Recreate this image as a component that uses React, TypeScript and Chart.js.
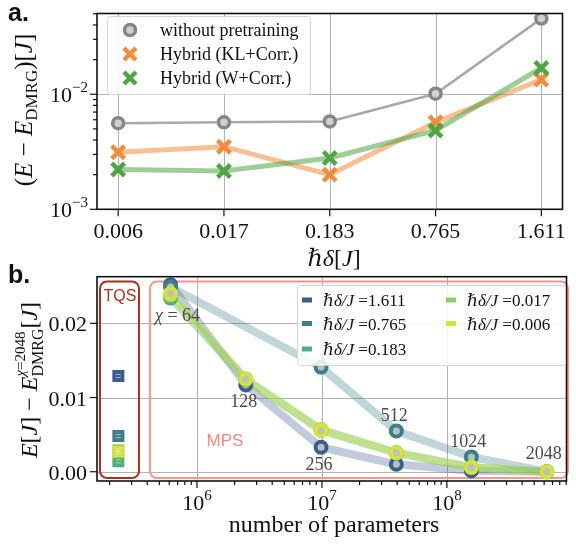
import React, { useEffect, useRef } from "react";
import { Chart, registerables } from "chart.js";
Chart.register(...registerables);

// ---------------- panel a data ----------------
const deltaLabels = ["0.006", "0.017", "0.183", "0.765", "1.611"];
const withoutPretraining = [0.0056, 0.0057, 0.0058, 0.0101, 0.0454];
const hybridKL = [0.00313, 0.0035, 0.002, 0.0057, 0.0134];
const hybridW = [0.00222, 0.00215, 0.00279, 0.00484, 0.0169];
const legendA = ["without pretraining", "Hybrid (KL+Corr.)", "Hybrid (W+Corr.)"];
const yTicksA = [0.001, 0.01];

// ---------------- panel b data ----------------
const chiValues = [64, 128, 256, 512, 1024, 2048];
const mpsParams = [6.15e5, 2.46e6, 9.84e6, 3.94e7, 1.57e8, 6.3e8];
const tqsParams = 2.35e5;
const deltaB = ["1.611", "0.765", "0.183", "0.017", "0.006"];
const mps1611 = [0.0252, 0.0117, 0.0033, 0.001, 0.00013, 0];
const mps0765 = [0.0249, null, 0.0141, 0.0055, 0.002, 0];
const mps0183 = [0.0234, 0.0124, 0.0056, 0.0025, 0.0006, 0];
const mps0017 = [0.0238, 0.0125, 0.0057, 0.0026, 0.0006, 0];
const mps0006 = [0.024, 0.0125, 0.0056, 0.00256, 0.00059, 0];
const tqsValues = [0.0129, 0.0048, 0.0014, 0.0029, 0.0027];
const yTicksB = [0, 0.01, 0.02];
const xTicksB = [1e6, 1e7, 1e8];

const mpsSeries = [mps1611, mps0765, mps0183, mps0017, mps0006];

// ---------------- styles ----------------
const SERIF = '"Liberation Serif", "DejaVu Serif", serif';
const SANS = '"Liberation Sans", "DejaVu Sans", Arial, sans-serif';
const colorsB = ["#3d5d8e", "#3b8089", "#4eaf7e", "#8fcf68", "#d6e23e"];
const GRID = "#b3b3b3";

function rgba(hex: string, a: number) {
  const n = parseInt(hex.slice(1), 16);
  return `rgba(${(n >> 16) & 255},${(n >> 8) & 255},${n & 255},${a})`;
}

type R = { t: string; size: number; italic?: boolean; dy?: number; stack?: R[][] };

function fontOf(r: R) {
  return `${r.italic ? "italic " : ""}${r.size}px ${SERIF}`;
}
function runW(ctx: CanvasRenderingContext2D, r: R): number {
  if (r.stack) return Math.max(...r.stack.map((l) => l.reduce((a, s) => a + runW(ctx, s), 0)));
  ctx.font = fontOf(r);
  return ctx.measureText(r.t).width;
}
function drawRuns(ctx: CanvasRenderingContext2D, runs: R[], x: number, y: number, align: "left" | "center" | "right") {
  const total = runs.reduce((a, r) => a + runW(ctx, r), 0);
  let cx = align === "left" ? x : align === "center" ? x - total / 2 : x - total;
  ctx.textAlign = "left";
  ctx.textBaseline = "alphabetic";
  for (const r of runs) {
    const w = runW(ctx, r);
    if (r.stack) {
      for (const line of r.stack) {
        let lx = cx;
        for (const p of line) {
          ctx.font = fontOf(p);
          ctx.fillText(p.t, lx, y + (p.dy || 0));
          lx += runW(ctx, p);
        }
      }
    } else {
      ctx.font = fontOf(r);
      ctx.fillText(r.t, cx, y + (r.dy || 0));
    }
    cx += w;
  }
}
function seg(ctx: CanvasRenderingContext2D, x1: number, y1: number, x2: number, y2: number) {
  ctx.beginPath();
  ctx.moveTo(x1, y1);
  ctx.lineTo(x2, y2);
  ctx.stroke();
}
function supLabel(exp: number): R[] {
  return [
    { t: "10", size: 22 },
    { t: exp < 0 ? "\u2212" + Math.abs(exp) : String(exp), size: 15, dy: -10 },
  ];
}

// ---------------- panel a plugin ----------------
const panelAPlugin = {
  id: "panelA",
  beforeDatasetsDraw(chart: any) {
    const { ctx, chartArea: ca, scales } = chart;
    ctx.save();
    ctx.strokeStyle = GRID;
    ctx.lineWidth = 1;
    deltaLabels.forEach((_, i) => {
      const px = Math.round(scales.x.getPixelForValue(i)) + 0.5;
      seg(ctx, px, ca.top, px, ca.bottom);
    });
    yTicksA.forEach((v) => {
      const py = Math.round(scales.y.getPixelForValue(v)) + 0.5;
      seg(ctx, ca.left, py, ca.right, py);
    });
    ctx.restore();
  },
  afterDatasetsDraw(chart: any) {
    const { ctx, chartArea: ca, scales } = chart;
    ctx.save();
    // frame
    ctx.strokeStyle = "#111";
    ctx.lineWidth = 1.6;
    ctx.strokeRect(ca.left, ca.top, ca.right - ca.left, ca.bottom - ca.top);
    // y ticks
    ctx.lineWidth = 1.2;
    for (let d = -3; d <= -2; d++) {
      for (let m = 1; m <= 9; m++) {
        const v = m * Math.pow(10, d);
        if (v > scales.y.max) continue;
        const py = scales.y.getPixelForValue(v);
        seg(ctx, ca.left, py, ca.left - (m === 1 ? 7 : 4), py);
      }
    }
    // x ticks
    deltaLabels.forEach((_, i) => {
      const px = scales.x.getPixelForValue(i);
      seg(ctx, px, ca.bottom, px, ca.bottom + 7);
    });
    ctx.fillStyle = "#111";
    // y tick labels
    yTicksA.forEach((v) => {
      const py = scales.y.getPixelForValue(v);
      drawRuns(ctx, supLabel(Math.round(Math.log10(v))), 88, py + 8, "right");
    });
    // x tick labels
    ctx.font = `22px ${SERIF}`;
    ctx.textAlign = "center";
    ctx.textBaseline = "alphabetic";
    deltaLabels.forEach((l, i) => {
      ctx.fillText(l, scales.x.getPixelForValue(i), 238);
    });
    // x title
    drawRuns(
      ctx,
      [
        { t: "\u210F\u03B4", size: 24, italic: true },
        { t: "[", size: 24 },
        { t: "J", size: 24, italic: true },
        { t: "]", size: 24 },
      ],
      334,
      266,
      "center"
    );
    // y title
    ctx.save();
    ctx.translate(32, 110);
    ctx.rotate(-Math.PI / 2);
    drawRuns(
      ctx,
      [
        { t: "(", size: 25 },
        { t: "E", size: 25, italic: true },
        { t: " \u2212 ", size: 25 },
        { t: "E", size: 25, italic: true },
        { t: "DMRG", size: 17, dy: 5 },
        { t: ")[", size: 25 },
        { t: "J", size: 25, italic: true },
        { t: "]", size: 25 },
      ],
      0,
      0,
      "center"
    );
    ctx.restore();
    // legend
    ctx.beginPath();
    (ctx as any).roundRect(107.5, 16.5, 203, 78, 3);
    ctx.fillStyle = "rgba(255,255,255,0.85)";
    ctx.fill();
    ctx.strokeStyle = "#d6d6d6";
    ctx.lineWidth = 1;
    ctx.stroke();
    const rows = [30, 54, 78];
    ctx.beginPath();
    ctx.arc(130, rows[0], 5.5, 0, Math.PI * 2);
    ctx.fillStyle = "#d0d0d0";
    ctx.fill();
    ctx.strokeStyle = "#868686";
    ctx.lineWidth = 3.5;
    ctx.stroke();
    const drawX = (cx: number, cy: number, col: string) => {
      ctx.strokeStyle = col;
      ctx.lineWidth = 4.5;
      seg(ctx, cx - 6, cy - 6, cx + 6, cy + 6);
      seg(ctx, cx - 6, cy + 6, cx + 6, cy - 6);
    };
    drawX(130, rows[1], "#f28b3b");
    drawX(130, rows[2], "#4fa443");
    ctx.fillStyle = "#111";
    ctx.font = `18px ${SERIF}`;
    ctx.textAlign = "left";
    ctx.textBaseline = "middle";
    legendA.forEach((l, i) => ctx.fillText(l, 160, rows[i] + 1));
    ctx.font = `bold 25px ${SANS}`;
    ctx.textBaseline = "alphabetic";
    ctx.fillText("a.", 8, 21);
    ctx.restore();
  },
};

// ---------------- panel b plugin ----------------
const panelBPlugin = {
  id: "panelB",
  beforeDatasetsDraw(chart: any) {
    const { ctx, chartArea: ca, scales } = chart;
    ctx.save();
    ctx.strokeStyle = GRID;
    ctx.lineWidth = 1;
    xTicksB.forEach((v) => {
      const px = Math.round(scales.x.getPixelForValue(v)) + 0.5;
      seg(ctx, px, ca.top, px, ca.bottom);
    });
    yTicksB.forEach((v) => {
      const py = Math.round(scales.y.getPixelForValue(v)) + 0.5;
      seg(ctx, ca.left, py, ca.right, py);
    });
    ctx.lineWidth = 2;
    ctx.strokeStyle = "#a8321e";
    ctx.beginPath();
    (ctx as any).roundRect(100, 19.5, 39, 196.5, 7);
    ctx.stroke();
    ctx.strokeStyle = "#f4968c";
    ctx.beginPath();
    (ctx as any).roundRect(150, 19.5, 418, 196.5, 7);
    ctx.stroke();
    ctx.textAlign = "center";
    ctx.textBaseline = "middle";
    ctx.fillStyle = "#a8321e";
    ctx.font = `16px ${SANS}`;
    ctx.fillText("TQS", 120, 35);
    ctx.fillStyle = "#f08a80";
    ctx.font = `17px ${SANS}`;
    ctx.fillText("MPS", 225, 179);
    ctx.restore();
  },
  afterDatasetsDraw(chart: any) {
    const { ctx, chartArea: ca, scales } = chart;
    ctx.save();
    // faint marks inside TQS squares
    ctx.strokeStyle = "rgba(235,235,235,0.6)";
    ctx.lineWidth = 1;
    tqsValues.forEach((v) => {
      const px = scales.x.getPixelForValue(tqsParams);
      const py = scales.y.getPixelForValue(v);
      seg(ctx, px - 2.5, py - 1.5, px + 2.5, py - 1.5);
      seg(ctx, px - 2.5, py + 1.5, px + 2.5, py + 1.5);
    });
    // chi labels
    const chiPos = [
      { s: 0, dx: 7, dy: 30 },
      { s: 0, dx: -2, dy: 16 },
      { s: 0, dx: -2, dy: 17 },
      { s: 1, dx: -2, dy: -16 },
      { s: 1, dx: -3, dy: -16 },
      { s: 1, dx: -3, dy: -19 },
    ];
    ctx.fillStyle = "#4a4a4a";
    chiValues.forEach((c, i) => {
      const p = chiPos[i];
      const px = scales.x.getPixelForValue(mpsParams[i]) + p.dx;
      const py = scales.y.getPixelForValue(mpsSeries[p.s][i] as number) + p.dy;
      const runs: R[] = i === 0 ? [{ t: "\u03C7", size: 18, italic: true }, { t: " = " + c, size: 18 }] : [{ t: String(c), size: 18 }];
      drawRuns(ctx, runs, px, py + 6, "center");
    });
    // frame
    ctx.strokeStyle = "#111";
    ctx.lineWidth = 1.6;
    ctx.strokeRect(ca.left, ca.top, ca.right - ca.left, ca.bottom - ca.top);
    ctx.lineWidth = 1.2;
    yTicksB.forEach((v) => {
      const py = scales.y.getPixelForValue(v);
      seg(ctx, ca.left, py, ca.left - 7, py);
    });
    for (let d = 5; d <= 8; d++) {
      for (let m = 1; m <= 9; m++) {
        const v = m * Math.pow(10, d);
        if (v < scales.x.min || v > scales.x.max) continue;
        const px = scales.x.getPixelForValue(v);
        seg(ctx, px, ca.bottom, px, ca.bottom + (m === 1 ? 7 : 4));
      }
    }
    ctx.fillStyle = "#111";
    ctx.font = `22px ${SERIF}`;
    ctx.textAlign = "right";
    ctx.textBaseline = "alphabetic";
    yTicksB.forEach((v) => {
      ctx.fillText(v.toFixed(2), 87, scales.y.getPixelForValue(v) + 8);
    });
    xTicksB.forEach((v) => {
      drawRuns(ctx, supLabel(Math.round(Math.log10(v))), scales.x.getPixelForValue(v), 248, "center");
    });
    ctx.font = `24px ${SERIF}`;
    ctx.textAlign = "center";
    ctx.fillText("number of parameters", 334, 270);
    // y title
    ctx.save();
    ctx.translate(37, 118);
    ctx.rotate(-Math.PI / 2);
    drawRuns(
      ctx,
      [
        { t: "E", size: 24, italic: true },
        { t: "[", size: 24 },
        { t: "J", size: 24, italic: true },
        { t: "] \u2212 ", size: 24 },
        { t: "E", size: 24, italic: true },
        {
          t: "",
          size: 16,
          stack: [
            [{ t: "DMRG", size: 16, dy: 6 }],
            [
              { t: "\u03C7", size: 15, italic: true, dy: -12 },
              { t: "=2048", size: 15, dy: -12 },
            ],
          ],
        },
        { t: "[", size: 24 },
        { t: "J", size: 24, italic: true },
        { t: "]", size: 24 },
      ],
      0,
      0,
      "center"
    );
    ctx.restore();
    // legend
    ctx.beginPath();
    (ctx as any).roundRect(297.5, 23.5, 268, 80, 3);
    ctx.fillStyle = "rgba(255,255,255,0.85)";
    ctx.fill();
    ctx.strokeStyle = "#d6d6d6";
    ctx.lineWidth = 1;
    ctx.stroke();
    const slots = [
      { x: 302, y: 38 },
      { x: 302, y: 61.5 },
      { x: 302, y: 87 },
      { x: 446, y: 38 },
      { x: 446, y: 61.5 },
    ];
    deltaB.forEach((d, i) => {
      const s = slots[i];
      ctx.fillStyle = colorsB[i];
      ctx.fillRect(s.x, s.y - 2.5, 10, 5);
      ctx.fillStyle = "#111";
      drawRuns(
        ctx,
        [
          { t: "\u210F\u03B4/J ", size: 17, italic: true },
          { t: "=" + d, size: 17 },
        ],
        s.x + 21,
        s.y + 6,
        "left"
      );
    });
    ctx.fillStyle = "#111";
    ctx.font = `bold 25px ${SANS}`;
    ctx.textAlign = "left";
    ctx.textBaseline = "alphabetic";
    ctx.fillText("b.", 8, 21);
    ctx.restore();
  },
};

function configA(): any {
  const pts = (arr: number[]) => arr.map((v, i) => ({ x: i, y: v }));
  return {
    type: "line",
    data: {
      datasets: [
        {
          label: legendA[0],
          data: pts(withoutPretraining),
          borderColor: "#a8a8a8",
          borderWidth: 2.5,
          pointStyle: "circle",
          pointRadius: 5.5,
          pointBorderWidth: 3.5,
          pointBorderColor: "#868686",
          pointBackgroundColor: "#d0d0d0",
          order: 3,
        },
        {
          label: legendA[1],
          data: pts(hybridKL),
          borderColor: "rgba(242,139,59,0.55)",
          borderWidth: 5,
          pointStyle: "crossRot",
          pointRadius: 9,
          pointBorderWidth: 4.5,
          pointBorderColor: "#f28b3b",
          order: 2,
        },
        {
          label: legendA[2],
          data: pts(hybridW),
          borderColor: "rgba(79,164,67,0.55)",
          borderWidth: 5,
          pointStyle: "crossRot",
          pointRadius: 9,
          pointBorderWidth: 4.5,
          pointBorderColor: "#4fa443",
          order: 1,
        },
      ],
    },
    options: {
      responsive: false,
      animation: false,
      events: [],
      layout: { padding: { left: 97, top: 8, right: 5, bottom: 70.7 } },
      scales: {
        x: { type: "linear", min: -0.2, max: 4.2, display: false },
        y: { type: "logarithmic", min: 0.001, max: 0.0503, display: false },
      },
      plugins: { legend: { display: false }, tooltip: { enabled: false } },
    },
    plugins: [panelAPlugin],
  };
}

function configB(): any {
  const datasets: any[] = [];
  mpsSeries.forEach((vals, i) => {
    const data = mpsParams.map((x, j) => ({ x, y: vals[j] }));
    datasets.push({
      label: deltaB[i] + " line",
      data,
      borderColor: rgba(colorsB[i], 0.32),
      borderWidth: 8,
      pointRadius: 0,
      spanGaps: true,
      borderCapStyle: "round",
      borderJoinStyle: "round",
      order: 30 - i,
    });
  });
  mpsSeries.forEach((vals, i) => {
    const data = mpsParams.map((x, j) => ({ x, y: vals[j] })).filter((p) => p.y !== null);
    datasets.push({
      label: deltaB[i],
      data,
      showLine: false,
      pointStyle: "circle",
      pointRadius: 5.5,
      pointBorderWidth: 4,
      pointBorderColor: colorsB[i],
      pointBackgroundColor: "#b9c3bd",
      order: 20 - i,
    });
  });
  tqsValues.forEach((v, i) => {
    datasets.push({
      label: deltaB[i] + " TQS",
      data: [{ x: tqsParams, y: v }],
      showLine: false,
      pointStyle: "rect",
      pointRadius: 8.5,
      pointBorderWidth: 0,
      pointBackgroundColor: colorsB[i],
      order: 10 - i,
    });
  });
  return {
    type: "line",
    data: { datasets },
    options: {
      responsive: false,
      animation: false,
      events: [],
      layout: { padding: { left: 97, top: 14.7, right: 5, bottom: 63 } },
      scales: {
        x: { type: "logarithmic", min: 1.585e5, max: 9.06e8, display: false },
        y: { type: "linear", min: -0.00125, max: 0.02628, display: false },
      },
      plugins: { legend: { display: false }, tooltip: { enabled: false } },
    },
    plugins: [panelBPlugin],
  };
}

export default function App() {
  const refA = useRef<HTMLCanvasElement>(null);
  const refB = useRef<HTMLCanvasElement>(null);
  useEffect(() => {
    const a = new Chart(refA.current as HTMLCanvasElement, configA());
    const b = new Chart(refB.current as HTMLCanvasElement, configB());
    return () => {
      a.destroy();
      b.destroy();
    };
  }, []);
  return (
    <div style={{ position: "fixed", left: 0, top: 0, width: 576, height: 544, background: "#fff" }}>
      <canvas ref={refA} width={576} height={280} style={{ position: "absolute", left: 0, top: 0, width: 576, height: 280 }} />
      <canvas ref={refB} width={576} height={282} style={{ position: "absolute", left: 0, top: 262, width: 576, height: 282 }} />
    </div>
  );
}
